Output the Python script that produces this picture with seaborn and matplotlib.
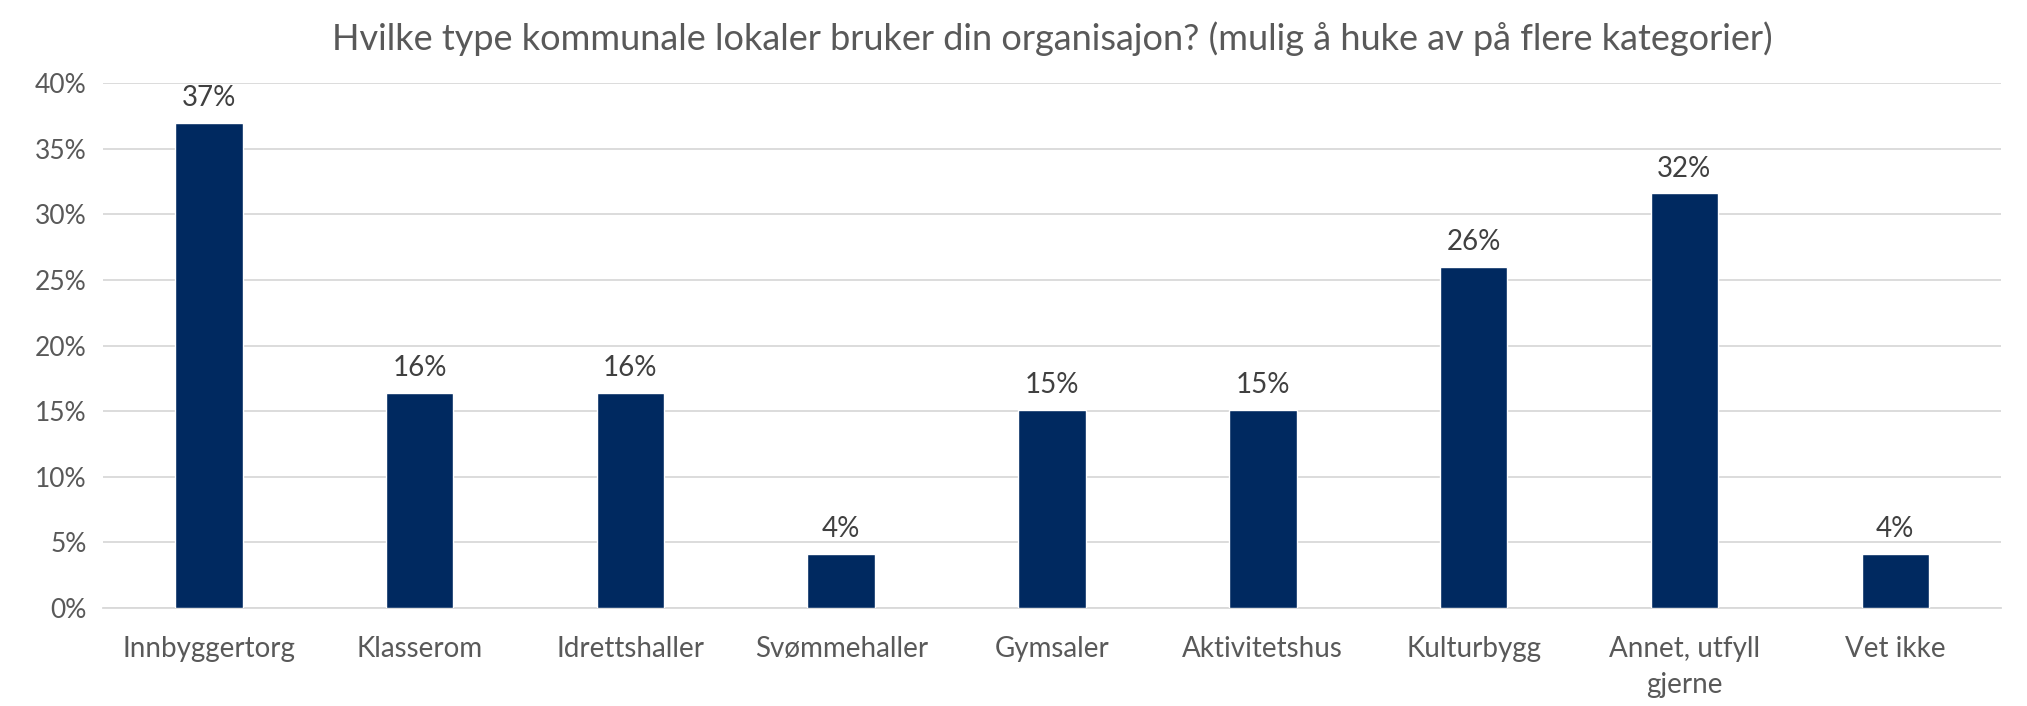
import numpy as np
import pandas as pd
import seaborn as sns
import matplotlib.pyplot as plt
from matplotlib.ticker import PercentFormatter

# data
kategorier = ['Innbyggertorg', 'Klasserom', 'Idrettshaller', 'Svømmehaller', 'Gymsaler',
              'Aktivitetshus', 'Kulturbygg', 'Annet, utfyll\ngjerne', 'Vet ikke']
andel = [37.0, 16.4, 16.4, 4.1, 15.1, 15.1, 26.0, 31.6, 4.1]
tittel = 'Hvilke type kommunale lokaler bruker din organisajon? (mulig å huke av på flere kategorier)'

df = pd.DataFrame({'kategori': kategorier, 'andel': andel})

sns.set_style('white')
plt.rcParams['font.family'] = ['Lato', 'DejaVu Sans']
tekst = '#595959'

fig, ax = plt.subplots(figsize=(20.27, 7.06), dpi=100)
fig.subplots_adjust(left=0.051, right=0.987, top=0.882, bottom=0.139)

sns.barplot(data=df, x='kategori', y='andel', color='#002960', width=0.32,
            saturation=1, ax=ax, zorder=3)

for p, v in zip(ax.patches, andel):
    ax.text(p.get_x() + p.get_width() / 2, v + 0.9, f'{v:.0f}%', ha='center', va='bottom',
            fontsize=20, color='#404040')

ax.set_ylim(0, 40)
ax.set_yticks(np.arange(0, 41, 5))
ax.yaxis.set_major_formatter(PercentFormatter(decimals=0))
ax.grid(axis='y', color='#d9d9d9', linewidth=1.3, zorder=0)
for s in ['top', 'right', 'left']:
    ax.spines[s].set_visible(False)
ax.spines['bottom'].set_color('#d9d9d9')
ax.spines['bottom'].set_linewidth(1.3)
ax.tick_params(axis='x', length=0, labelsize=20, labelcolor=tekst, pad=20)
ax.tick_params(axis='y', length=0, labelsize=19, labelcolor=tekst, pad=12)
for lbl in ax.get_xticklabels():
    lbl.set_linespacing(1.5)
ax.set_xlabel('')
ax.set_ylabel('')
ax.set_title(tittel, fontsize=26, color=tekst, pad=24)

fig.savefig('out.png', dpi=100)
